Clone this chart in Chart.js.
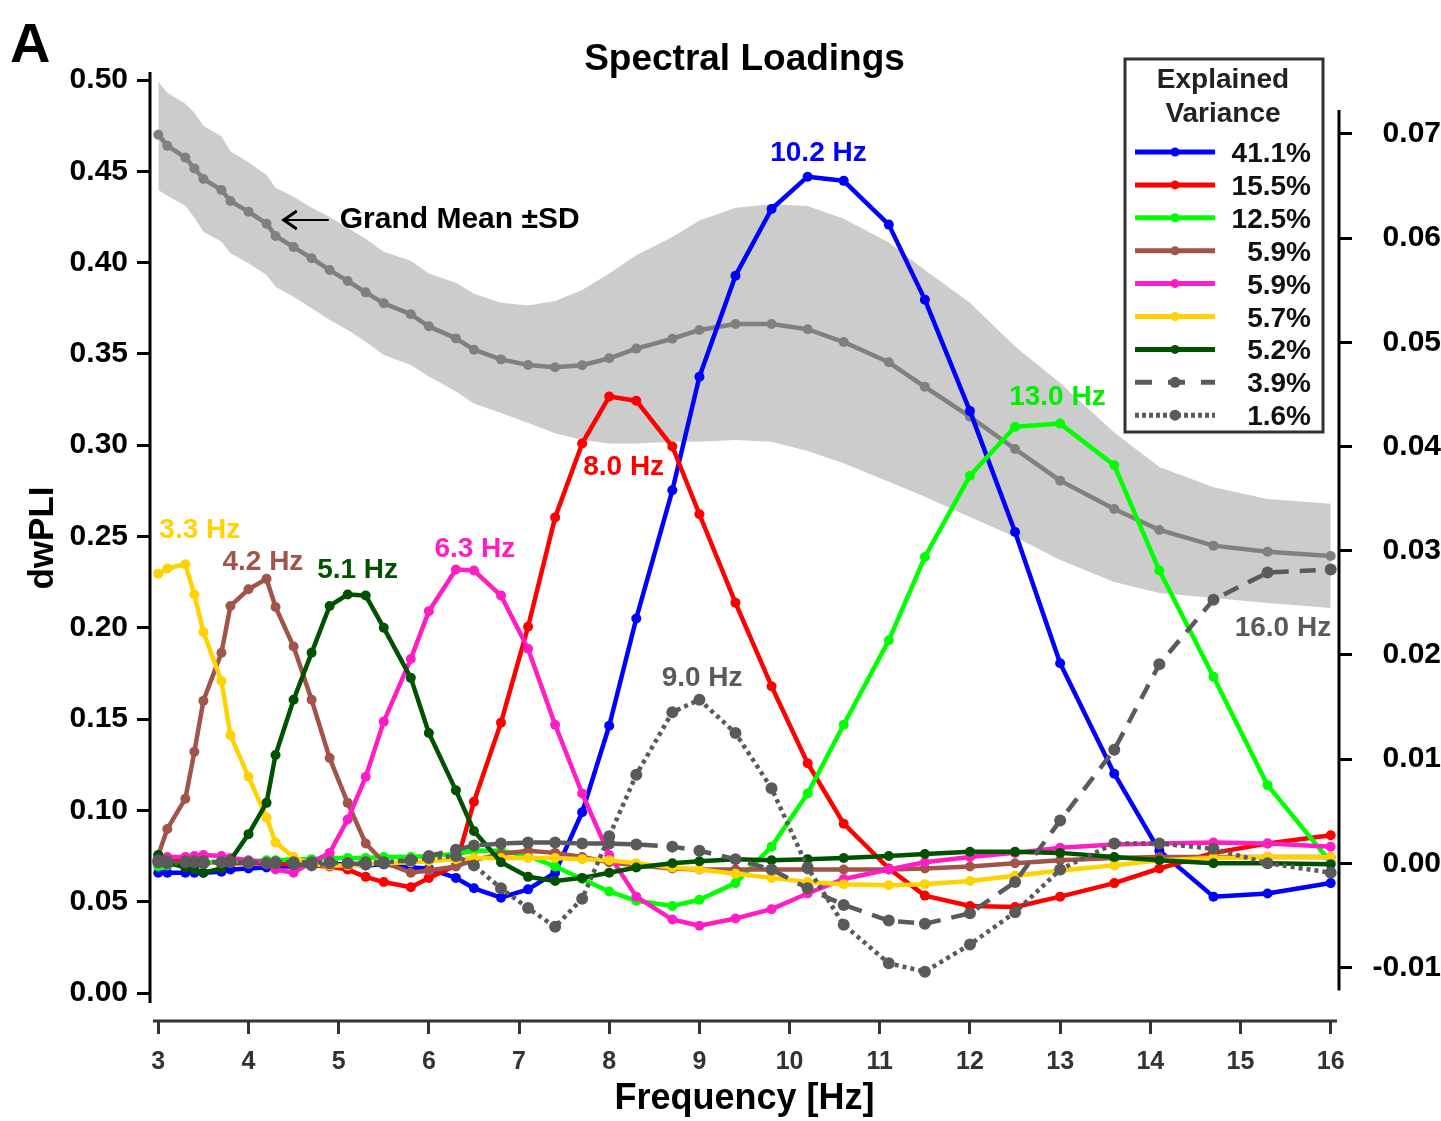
<!DOCTYPE html>
<html>
<head>
<meta charset="utf-8">
<script src="https://cdn.jsdelivr.net/npm/chart.js@4/dist/chart.umd.min.js"></script>
<style>
  html, body { margin: 0; padding: 0; background: #fff; }
  canvas { display: block; }
</style>
</head>
<body>
<canvas id="chart" width="1441" height="1121"></canvas>
<script>
// Frequency grid (Hz)
const freqs = [3.0, 3.1, 3.3, 3.4, 3.5, 3.7, 3.8, 4.0, 4.2, 4.3,
               4.5, 4.7, 4.9, 5.1, 5.3, 5.5, 5.8, 6.0, 6.3, 6.5,
               6.8, 7.1, 7.4, 7.7, 8.0, 8.3, 8.7, 9.0, 9.4, 9.8,
               10.2, 10.6, 11.1, 11.5, 12.0, 12.5, 13.0,
               13.6, 14.1, 14.7, 15.3, 16.0];

// Grand mean dwPLI and the ±SD envelope (left axis)
const grandMean = [0.470, 0.464, 0.4575, 0.4516, 0.4458, 0.4398, 0.4337, 0.4279, 0.4213, 0.4146,
                   0.4085, 0.4024, 0.3959, 0.3899, 0.3837, 0.3777, 0.3717, 0.3651, 0.3585, 0.3523,
                   0.3470, 0.3439, 0.3427, 0.3438, 0.3476, 0.3529, 0.3583, 0.3631, 0.3664, 0.3664,
                   0.3635, 0.3565, 0.3454, 0.3320, 0.3156, 0.2979, 0.2806,
                   0.2651, 0.2536, 0.2450, 0.2417, 0.2393];
const sdUpper = [0.499, 0.493, 0.487, 0.482, 0.475, 0.469, 0.461, 0.455, 0.448, 0.441,
                 0.436, 0.430, 0.425, 0.419, 0.413, 0.406, 0.401, 0.394, 0.389, 0.383,
                 0.378, 0.3765, 0.379, 0.385, 0.394, 0.404, 0.414, 0.423, 0.430, 0.432,
                 0.431, 0.424, 0.411, 0.396, 0.378, 0.354, 0.334,
                 0.307, 0.288, 0.277, 0.2705, 0.268];
const sdLower = [0.4398, 0.4366, 0.4312, 0.4245, 0.4169, 0.4114, 0.4051, 0.3996, 0.3932, 0.3868,
                 0.3813, 0.3750, 0.3686, 0.3631, 0.3567, 0.3494, 0.3439, 0.3376, 0.3294, 0.3229,
                 0.3176, 0.3121, 0.3066, 0.3029, 0.3010, 0.3010, 0.3019, 0.3019, 0.3029, 0.3019,
                 0.2968, 0.2901, 0.2800, 0.2718, 0.2607, 0.2497, 0.2371,
                 0.2251, 0.2191, 0.2163, 0.2136, 0.2108];

// Spectral loadings of each component (right axis)
const load411 = [-0.0009, -0.0009, -0.0009, -0.0009, -0.0009, -0.0008, -0.0006, -0.0005, -0.0004, -0.0003,
                 -0.0003, -0.0002, -0.0001, -0.0001, -0.0002, -0.0001, -0.0004, -0.0005, -0.0014, -0.0024,
                 -0.0033, -0.0025, -0.0009, 0.0049, 0.0132, 0.0235, 0.0358, 0.0467, 0.0564, 0.0628,
                 0.0659, 0.0655, 0.0613, 0.0541, 0.0434, 0.0318, 0.0192,
                 0.0086, 0.0012, -0.0032, -0.0029, -0.0019];
const load155 = [0.0003, 0.0002, 0.0002, 0.0001, 0.0001, 0.0001, 0.0000, 0.0000, 0.0000, -0.0001,
                 -0.0001, -0.0002, -0.0003, -0.0006, -0.0013, -0.0018, -0.0023, -0.0014, -0.0002, 0.0059,
                 0.0135, 0.0227, 0.0332, 0.0403, 0.0448, 0.0444, 0.0400, 0.0335, 0.0250, 0.0170,
                 0.0096, 0.0038, -0.0005, -0.0031, -0.0041, -0.0042, -0.0032,
                 -0.0019, -0.0005, 0.0010, 0.0019, 0.0027];
const load125 = [-0.0003, -0.0002, -0.0001, 0.0000, 0.0001, 0.0001, 0.0002, 0.0002, 0.0003, 0.0003,
                 0.0004, 0.0004, 0.0005, 0.0005, 0.0005, 0.0006, 0.0006, 0.0007, 0.0009, 0.0012,
                 0.0012, 0.0007, -0.0003, -0.0015, -0.0027, -0.0036, -0.0041, -0.0035, -0.0019, 0.0016,
                 0.0067, 0.0133, 0.0214, 0.0294, 0.0372, 0.0419, 0.0422,
                 0.0382, 0.0281, 0.0179, 0.0075, 0.0001];
const load59a = [0.0008, 0.0033, 0.0062, 0.0107, 0.0156, 0.0202, 0.0247, 0.0263, 0.0273, 0.0246,
                 0.0208, 0.0157, 0.0101, 0.0058, 0.0019, 0.0001, -0.0009, -0.0007, -0.0003, 0.0003,
                 0.0009, 0.0012, 0.0010, 0.0006, 0.0001, -0.0002, -0.0005, -0.0006, -0.0006, -0.0006,
                 -0.0006, -0.0006, -0.0006, -0.0005, -0.0003, 0.0000, 0.0003,
                 0.0005, 0.0006, 0.0006, 0.0006, 0.0006];
const load59b = [0.0005, 0.0006, 0.0006, 0.0007, 0.0008, 0.0007, 0.0005, 0.0003, 0.0001, -0.0006,
                 -0.0009, 0.0001, 0.0010, 0.0042, 0.0083, 0.0136, 0.0196, 0.0242, 0.0282, 0.0281,
                 0.0257, 0.0206, 0.0133, 0.0067, 0.0008, -0.0032, -0.0054, -0.0060, -0.0053, -0.0044,
                 -0.0029, -0.0015, -0.0006, 0.0001, 0.0006, 0.0010, 0.0015,
                 0.0018, 0.0019, 0.0020, 0.0019, 0.0016];
const load57 = [0.0278, 0.0283, 0.0287, 0.0258, 0.0222, 0.0175, 0.0123, 0.0083, 0.0044, 0.0020,
                0.0006, -0.0001, -0.0002, -0.0002, -0.0001, 0.0000, 0.0001, 0.0002, 0.0004, 0.0005,
                0.0005, 0.0005, 0.0005, 0.0004, 0.0003, 0.0000, -0.0004, -0.0006, -0.0010, -0.0014,
                -0.0018, -0.0020, -0.0021, -0.0020, -0.0017, -0.0012, -0.0007,
                -0.0002, 0.0003, 0.0005, 0.0006, 0.0006];
const load52 = [0.0008, 0.0001, -0.0004, -0.0006, -0.0009, -0.0005, 0.0003, 0.0028, 0.0058, 0.0104,
                0.0157, 0.0202, 0.0247, 0.0258, 0.0257, 0.0226, 0.0178, 0.0125, 0.0070, 0.0031,
                0.0001, -0.0013, -0.0017, -0.0014, -0.0009, -0.0004, 0.0000, 0.0002, 0.0004, 0.0003,
                0.0004, 0.0005, 0.0007, 0.0009, 0.0011, 0.0011, 0.0010,
                0.0006, 0.0003, 0.0000, 0.0000, -0.0001];
const load39 = [0.0003, 0.0002, 0.0002, 0.0002, 0.0002, 0.0001, 0.0002, 0.0000, 0.0000, 0.0000,
                -0.0001, -0.0002, 0.0000, 0.0000, -0.0001, 0.0000, 0.0003, 0.0007, 0.0013, 0.0017,
                0.0019, 0.0020, 0.0020, 0.0019, 0.0019, 0.0018, 0.0016, 0.0012, 0.0004, -0.0006,
                -0.0024, -0.0040, -0.0055, -0.0058, -0.0048, -0.0018, 0.0041,
                0.0109, 0.0191, 0.0253, 0.0279, 0.0282];
const load16 = [0.0001, 0.0000, 0.0001, 0.0001, 0.0000, 0.0001, 0.0001, 0.0001, 0.0000, 0.0001,
                0.0001, 0.0001, 0.0001, 0.0000, 0.0001, 0.0001, 0.0003, 0.0005, 0.0007, -0.0002,
                -0.0024, -0.0043, -0.0061, -0.0034, 0.0026, 0.0085, 0.0145, 0.0157, 0.0125, 0.0072,
                -0.0004, -0.0059, -0.0096, -0.0104, -0.0078, -0.0047, -0.0006,
                0.0019, 0.0019, 0.0014, 0.0000, -0.0009];

const varianceLabels = ['41.1%', '15.5%', '12.5%', '5.9%', '5.9%', '5.7%', '5.2%', '3.9%', '1.6%'];

// Peak frequency annotations: text, and anchor (Hz, loading)
const peakTexts   = ['3.3 Hz', '4.2 Hz', '5.1 Hz', '6.3 Hz', '8.0 Hz', '9.0 Hz', '10.2 Hz', '13.0 Hz', '16.0 Hz'];
const peakAnchors = [[3.46, 0.0322], [4.16, 0.0291], [5.21, 0.0283], [6.51, 0.0304], [8.16, 0.0382],
                     [9.03, 0.0180], [10.32, 0.0684], [12.97, 0.0449], [15.47, 0.0228]];

// Tick values
const xTicks = [3, 4, 5, 6, 7, 8, 9, 10, 11, 12, 13, 14, 15, 16];
const leftTicks = [0, 0.05, 0.10, 0.15, 0.20, 0.25, 0.30, 0.35, 0.40, 0.45, 0.50];
const rightTicks = [-0.01, 0, 0.01, 0.02, 0.03, 0.04, 0.05, 0.06, 0.07];

// ---------- styling ----------
const FONT = "'Liberation Sans', Arial, Helvetica, sans-serif";
const GRAY_DARK = '#5a5a5a';
const loadingSeries = [load411, load155, load125, load59a, load59b, load57, load52, load39, load16];
const loadingStyles = [
  { color: '#0000ff', dash: [],       radius: 5 },
  { color: '#ff0000', dash: [],       radius: 5 },
  { color: '#00ff00', dash: [],       radius: 5 },
  { color: '#a0544a', dash: [],       radius: 5 },
  { color: '#ff1ec4', dash: [],       radius: 5 },
  { color: '#ffd200', dash: [],       radius: 5 },
  { color: '#005200', dash: [],       radius: 5 },
  { color: GRAY_DARK, dash: [16, 11], radius: 6 },
  { color: GRAY_DARK, dash: [4, 4],   radius: 6 }
];
const peakColors = ['#ffd200', '#a0544a', '#005200', '#ff1ec4', '#ff0000', GRAY_DARK, '#0000ff', '#00ee00', GRAY_DARK];

const pts = vals => freqs.map((f, i) => ({ x: f, y: vals[i] }));

const datasets = [
  { label: 'SD upper', data: pts(sdUpper), yAxisID: 'yL', borderColor: 'transparent', borderWidth: 0,
    pointRadius: 0, fill: '+1', backgroundColor: '#cccccc', order: 30 },
  { label: 'SD lower', data: pts(sdLower), yAxisID: 'yL', borderColor: 'transparent', borderWidth: 0,
    pointRadius: 0, fill: false, order: 29 },
  { label: 'Grand Mean', data: pts(grandMean), yAxisID: 'yL', borderColor: '#808080', borderWidth: 4.5,
    pointRadius: 5, pointBackgroundColor: '#808080', pointBorderWidth: 0, fill: false,
    borderJoinStyle: 'round', order: 28 }
];
loadingSeries.forEach((vals, k) => {
  const s = loadingStyles[k];
  datasets.push({
    label: varianceLabels[k], data: pts(vals), yAxisID: 'yR',
    borderColor: s.color, backgroundColor: s.color, borderWidth: 4.5, borderDash: s.dash,
    borderCapStyle: s.dash.length ? 'butt' : 'round', borderJoinStyle: 'round',
    pointRadius: s.radius, pointBackgroundColor: s.color, pointBorderWidth: 0,
    fill: false, tension: 0, order: 9 - k
  });
});

// Axis lines, titles, annotations and legend box
const decorations = {
  id: 'decorations',
  afterDraw(chart) {
    const { ctx, chartArea: a, scales } = chart;
    const x = scales.x, yL = scales.yL, yR = scales.yR;
    ctx.save();

    // axis lines
    ctx.lineCap = 'butt';
    ctx.lineWidth = 3;
    ctx.strokeStyle = '#000';
    ctx.beginPath();
    ctx.moveTo(a.left, a.top - 3);
    ctx.lineTo(a.left, yL.getPixelForValue(-0.0055));
    ctx.stroke();
    ctx.beginPath();
    ctx.moveTo(a.right, yR.getPixelForValue(0.0723));
    ctx.lineTo(a.right, yR.getPixelForValue(-0.0122));
    ctx.stroke();
    ctx.strokeStyle = '#333';
    ctx.beginPath();
    ctx.moveTo(x.getPixelForValue(2.94), a.bottom);
    ctx.lineTo(x.getPixelForValue(16.07), a.bottom);
    ctx.stroke();

    // panel letter and title
    ctx.fillStyle = '#000';
    ctx.textAlign = 'left';
    ctx.textBaseline = 'alphabetic';
    ctx.font = 'bold 56px ' + FONT;
    ctx.fillText('A', 10, 62);
    ctx.textAlign = 'center';
    ctx.font = 'bold 37px ' + FONT;
    ctx.fillText('Spectral Loadings', (a.left + a.right) / 2, 70);

    // left axis title
    ctx.save();
    ctx.translate(40, 538);
    ctx.rotate(-Math.PI / 2);
    ctx.font = 'bold 35px ' + FONT;
    ctx.textAlign = 'center';
    ctx.fillText('dwPLI', 0, 12.5);
    ctx.restore();

    // grand mean annotation with arrow
    const ax = x.getPixelForValue(4.38), ay = yL.getPixelForValue(0.4233);
    ctx.strokeStyle = '#000';
    ctx.lineWidth = 2;
    ctx.beginPath();
    ctx.moveTo(ax + 1, ay);
    ctx.lineTo(ax + 46, ay);
    ctx.stroke();
    ctx.lineWidth = 3;
    ctx.beginPath();
    ctx.moveTo(ax + 14, ay - 9);
    ctx.lineTo(ax + 1, ay);
    ctx.lineTo(ax + 14, ay + 9);
    ctx.stroke();
    ctx.textAlign = 'left';
    ctx.font = 'bold 30px ' + FONT;
    ctx.fillText('Grand Mean \u00b1SD', ax + 57, ay + 8);

    // peak frequency labels
    ctx.font = 'bold 28px ' + FONT;
    ctx.textAlign = 'center';
    peakTexts.forEach((t, i) => {
      ctx.fillStyle = peakColors[i];
      ctx.fillText(t, x.getPixelForValue(peakAnchors[i][0]), yR.getPixelForValue(peakAnchors[i][1]) + 10);
    });

    // legend
    const lx = 1125, ly = 59, lw = 198, lh = 373;
    ctx.fillStyle = '#fff';
    ctx.fillRect(lx, ly, lw, lh);
    ctx.strokeStyle = '#333';
    ctx.lineWidth = 3;
    ctx.strokeRect(lx, ly, lw, lh);
    ctx.fillStyle = '#222';
    ctx.textAlign = 'center';
    ctx.font = 'bold 28px ' + FONT;
    ctx.fillText('Explained', lx + 98, ly + 29);
    ctx.fillText('Variance', lx + 98, ly + 63);
    loadingStyles.forEach((s, k) => {
      const yy = ly + 93 + k * 32.9;
      ctx.strokeStyle = s.color;
      ctx.lineWidth = 5;
      ctx.setLineDash(k === 7 ? [17, 16] : (k === 8 ? [4, 3] : []));
      ctx.beginPath();
      ctx.moveTo(lx + 10, yy);
      ctx.lineTo(lx + 90, yy);
      ctx.stroke();
      ctx.setLineDash([]);
      ctx.fillStyle = s.color;
      ctx.beginPath();
      ctx.arc(lx + 50, yy, k >= 7 ? 5.5 : 4.5, 0, Math.PI * 2);
      ctx.fill();
      ctx.fillStyle = '#111';
      ctx.textAlign = 'right';
      ctx.fillText(varianceLabels[k], lx + 186, yy + 10);
    });
    ctx.restore();
  }
};

const tickGrid = color => ({
  display: true, drawOnChartArea: false, drawTicks: true,
  tickLength: 13, tickWidth: 3, tickColor: color, lineWidth: 3, color: color
});

new Chart(document.getElementById('chart'), {
  type: 'line',
  data: { datasets },
  options: {
    responsive: false,
    devicePixelRatio: 1,
    animation: false,
    events: [],
    layout: { padding: { top: 75, left: 0, right: 0, bottom: 0 } },
    plugins: { legend: { display: false }, tooltip: { enabled: false }, title: { display: false } },
    scales: {
      x: {
        type: 'linear', position: 'bottom', min: 2.908, max: 16.092,
        afterBuildTicks: s => { s.ticks = xTicks.map(v => ({ value: v })); },
        afterFit: s => { s.height = 100; },
        ticks: { font: { family: FONT, size: 25, weight: 'bold' }, color: '#333', padding: 13,
                 autoSkip: false, maxRotation: 0, minRotation: 0, callback: v => String(v) },
        grid: tickGrid('#333'),
        border: { display: false },
        title: { display: true, text: 'Frequency [Hz]', color: '#000',
                 font: { family: FONT, size: 36, weight: 'bold' }, padding: { top: 0, bottom: 0 } }
      },
      yL: {
        type: 'linear', position: 'left', min: -0.015334, max: 0.50274,
        afterBuildTicks: s => { s.ticks = leftTicks.map(v => ({ value: v })); },
        afterFit: s => { s.width = 150; },
        ticks: { font: { family: FONT, size: 30, weight: 'bold' }, color: '#000', padding: 9,
                 autoSkip: false, callback: v => Number(v).toFixed(2) },
        grid: tickGrid('#000'),
        border: { display: false }
      },
      yR: {
        type: 'linear', position: 'right', min: -0.015136, max: 0.07566,
        afterBuildTicks: s => { s.ticks = rightTicks.map(v => ({ value: v })); },
        afterFit: s => { s.width = 102; },
        ticks: { font: { family: FONT, size: 30, weight: 'bold' }, color: '#000', padding: 10,
                 crossAlign: 'far', autoSkip: false, callback: v => Number(v).toFixed(2) },
        grid: tickGrid('#000'),
        border: { display: false }
      }
    }
  },
  plugins: [decorations]
});
</script>
</body>
</html>
